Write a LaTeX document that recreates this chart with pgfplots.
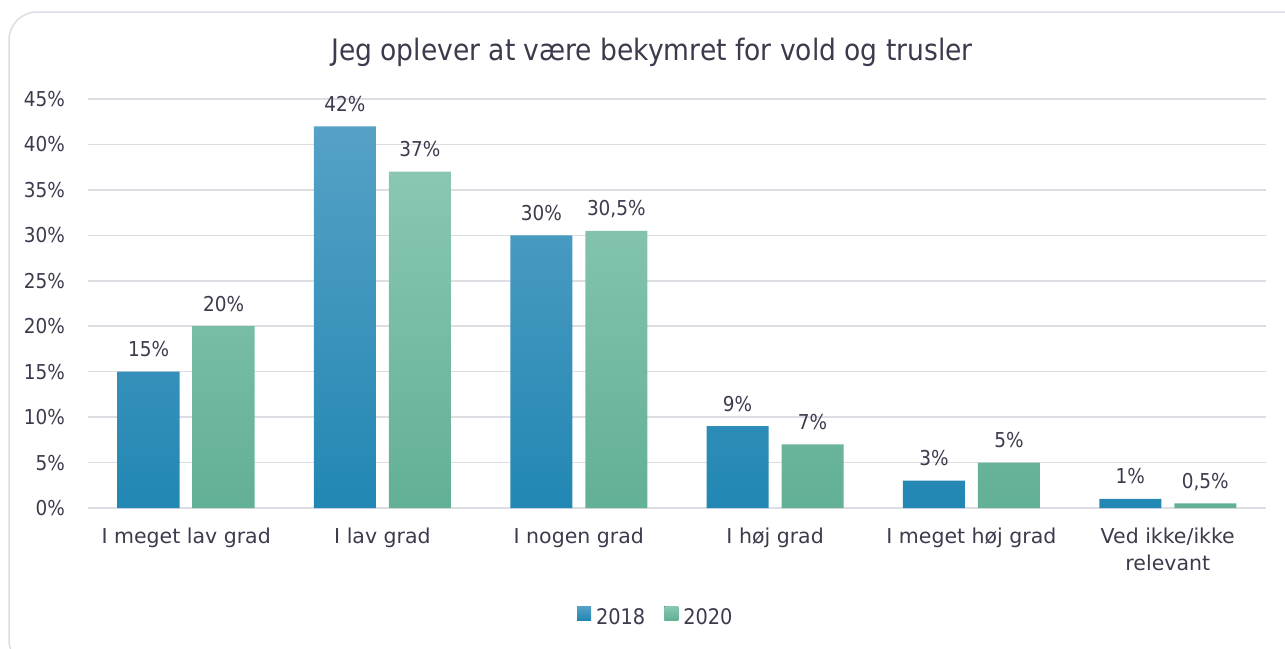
\documentclass[border=0pt]{standalone}
\usepackage{pgfplots}
\pgfplotsset{compat=1.18}
\usepackage{fontspec}
\setmainfont{DejaVu Sans Condensed}
\newfontfamily\widefont{DejaVu Sans}
\definecolor{txt}{RGB}{59,59,77}
\definecolor{gridc}{RGB}{221,221,228}
\definecolor{framec}{RGB}{220,220,228}
\definecolor{bTop}{RGB}{86,161,198}
\definecolor{bMid}{RGB}{45,151,195}
\definecolor{bBot}{RGB}{34,135,179}
\definecolor{gTop}{RGB}{138,199,178}
\definecolor{gMid}{RGB}{118,190,165}
\definecolor{gBot}{RGB}{98,176,150}
\begin{document}
\begin{tikzpicture}
\useasboundingbox (0pt,0pt) rectangle (1285pt,-648pt);
\begin{scope}[overlay]
\clip (0pt,0pt) rectangle (1285pt,-648pt);
\draw[framec, line width=1.5pt, rounded corners=28pt] (9pt,-12pt) rectangle (1310pt,-668pt);
\node[anchor=base, text=txt, font=\fontsize{29.5}{34}\selectfont] at (652pt,-60pt) {Jeg oplever at være bekymret for vold og trusler};
\begin{axis}[
  at={(88pt,-508pt)}, anchor=south west,
  scale only axis, width=1178pt, height=409pt,
  xmin=-0.5, xmax=5.5, ymin=0, ymax=45,
  ytick={0,5,...,45},
  xtick={0,...,5},
  xticklabels={I meget lav grad, I lav grad, I nogen grad, I høj grad, I meget høj grad, {Ved ikke/ikke\\relevant}},
  /pgf/number format/assume math mode=true,
  yticklabel={\pgfmathprintnumber{\tick}\%},
  ymajorgrids, grid style={gridc, line width=1.5pt},
  axis line style={draw=none},
  major tick length=0pt,
  tick label style={text=txt, font=\fontsize{20.5}{27}\selectfont},
  yticklabel style={anchor=east, inner sep=0pt, xshift=-23pt},
  xticklabel style={anchor=north, inner sep=0pt, yshift=-20pt, align=center, font=\widefont\fontsize{20.5}{27}\selectfont},
  ybar=13pt, bar width=62pt,
  point meta=explicit symbolic,
  nodes near coords={\pgfplotspointmeta},
  nodes near coords style={anchor=base, yshift=15pt, text=txt, font=\fontsize{20.5}{24}\selectfont},
  legend style={at={(0.482,-0.2665)}, anchor=center, draw=none, fill=none, legend columns=2,
    font=\fontsize{21.5}{24}\selectfont, text=txt,
    /tikz/every odd column/.append style={column sep=3pt},
    /tikz/every even column/.append style={column sep=17pt}},
  legend cell align=left,
]
\addplot[draw=none, top color=bTop, middle color=bMid, bottom color=bBot,
  legend image code/.code={\fill[top color=bTop, bottom color=bBot] (0pt,-3pt) rectangle (14pt,11pt);}]
  coordinates {(0,15) [15\%] (1,42) [42\%] (2,30) [30\%] (3,9) [9\%] (4,3) [3\%] (5,1) [1\%]};
\addlegendentry{2018}
\addplot[draw=none, top color=gTop, middle color=gMid, bottom color=gBot,
  legend image code/.code={\fill[top color=gTop, bottom color=gBot] (0pt,-3pt) rectangle (14pt,11pt);}]
  coordinates {(0,20) [20\%] (1,37) [37\%] (2,30.5) [{30,5\%}] (3,7) [7\%] (4,5) [5\%] (5,0.5) [{0,5\%}]};
\addlegendentry{2020}
\end{axis}
\end{scope}
\end{tikzpicture}
\end{document}
